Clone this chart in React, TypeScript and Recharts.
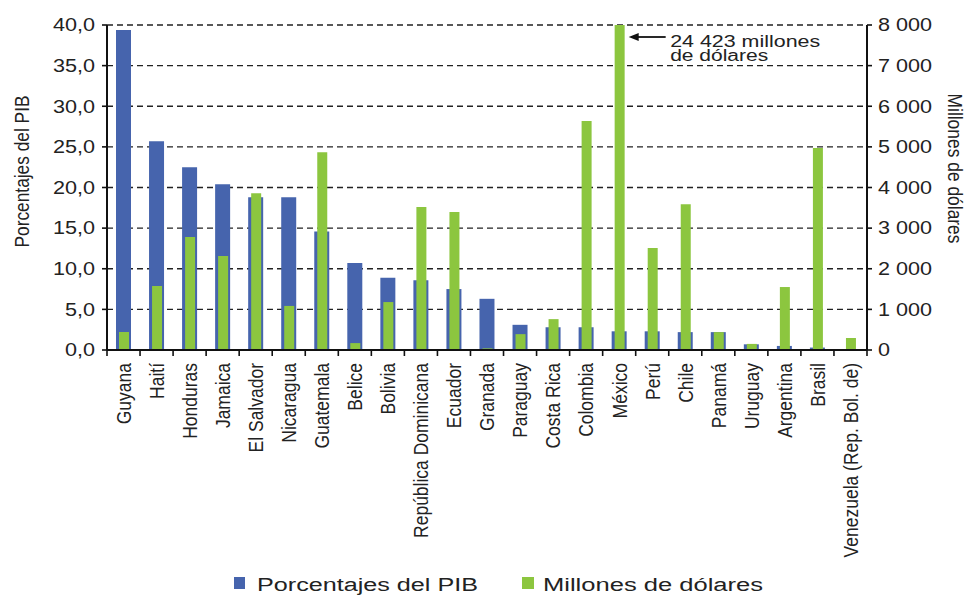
import React from 'react';
import { BarChart, Bar, XAxis, YAxis, CartesianGrid, Legend, ReferenceDot } from 'recharts';

const countries = [
  'Guyana', 'Haití', 'Honduras', 'Jamaica', 'El Salvador', 'Nicaragua', 'Guatemala', 'Belice',
  'Bolivia', 'República Dominicana', 'Ecuador', 'Granada', 'Paraguay', 'Costa Rica', 'Colombia',
  'México', 'Perú', 'Chile', 'Panamá', 'Uruguay', 'Argentina', 'Brasil', 'Venezuela (Rep. Bol. de)',
];
const pctPIB = [39.4, 25.7, 22.5, 20.4, 18.8, 18.8, 14.6, 10.7, 8.9, 8.6, 7.5, 6.3, 3.1, 2.8, 2.8, 2.3, 2.3, 2.2, 2.2, 0.7, 0.5, 0.3, 0];
const millonesUSD = [443, 1575, 2780, 2315, 3860, 1085, 4870, 170, 1180, 3520, 3400, 40, 390, 760, 5640, 24423, 2510, 3590, 440, 150, 1550, 4970, 295];
const pctTicks = [0, 5, 10, 15, 20, 25, 30, 35, 40];
const usdTicks = [0, 1000, 2000, 3000, 4000, 5000, 6000, 7000, 8000];
const annotationCountry = 'México';
const annotationLines = ['24 423 millones', 'de dólares'];
const legendLabels = ['Porcentajes del PIB', 'Millones de dólares'];
const axisTitles = ['Porcentajes del PIB', 'Millones de dólares'];

const data = countries.map((c, i) => ({ country: c, pct: pctPIB[i], usd: millonesUSD[i] }));

const BLUE = '#4664ad';
const GREEN = '#8cc63f';
const INK = '#222222';
const FONT = '"Liberation Sans", Arial, sans-serif';

function XTick(props: any) {
  const { x, y, payload, index, width } = props;
  const n = countries.length;
  const half = (width ? width : 760) / (2 * n);
  const axisY = y - 13;
  return (
    <g>
      <line x1={x - half} x2={x - half} y1={axisY} y2={axisY + 6} stroke="#111" strokeWidth={1.6} />
      {index === n - 1 && <line x1={x + half} x2={x + half} y1={axisY} y2={axisY + 6} stroke="#111" strokeWidth={1.6} />}
      <text
        transform={`translate(${x},${y}) scale(1.2,1) rotate(-90)`}
        textAnchor="end"
        dy="0.35em"
        fontSize={17.5}
        fill={INK}
        fontFamily={FONT}
      >
        {payload.value}
      </text>
    </g>
  );
}

function LeftTick(props: any) {
  const { x, y, payload } = props;
  return (
    <text transform={`translate(${x},${y}) scale(1.2,1)`} textAnchor="end" dy="0.35em" fontSize={18} fill={INK} fontFamily={FONT}>
      {Number(payload.value).toFixed(1).replace('.', ',')}
    </text>
  );
}

function RightTick(props: any) {
  const { x, y, payload } = props;
  const s = String(payload.value).replace(/\B(?=(\d{3})+(?!\d))/g, ' ');
  return (
    <text transform={`translate(${x},${y}) scale(1.2,1)`} textAnchor="start" dy="0.35em" fontSize={18} fill={INK} fontFamily={FONT}>
      {s}
    </text>
  );
}

function LeftTitle(props: any) {
  const vb = props.viewBox || { x: 0, y: 25, width: 107, height: 325 };
  const cx = vb.x + 22;
  const cy = vb.y + vb.height / 2 - 16;
  return (
    <text
      transform={`translate(${cx},${cy}) scale(1.2,1) rotate(-90)`}
      textAnchor="middle"
      dy="0.35em"
      fontSize={17}
      textLength={152}
      lengthAdjust="spacingAndGlyphs"
      fill={INK}
      fontFamily={FONT}
    >
      {axisTitles[0]}
    </text>
  );
}

function RightTitle(props: any) {
  const vb = props.viewBox || { x: 867, y: 25, width: 99, height: 325 };
  const cx = vb.x + 88;
  const cy = vb.y + vb.height / 2 - 19;
  return (
    <text
      transform={`translate(${cx},${cy}) scale(1.15,1) rotate(90)`}
      textAnchor="middle"
      dy="0.35em"
      fontSize={17}
      textLength={150}
      lengthAdjust="spacingAndGlyphs"
      fill={INK}
      fontFamily={FONT}
    >
      {axisTitles[1]}
    </text>
  );
}

function Annot(props: any) {
  const vb = props.viewBox;
  if (!vb) return null;
  const cx = vb.x + (vb.width || 0) / 2;
  const cy = vb.y + (vb.height || 0) / 2;
  const ax = cx + 9.5;
  const ay = cy + 12;
  return (
    <g>
      <line x1={ax + 8} y1={ay} x2={ax + 37} y2={ay} stroke="#111" strokeWidth={1.8} />
      <polygon points={`${ax},${ay} ${ax + 10},${ay - 4} ${ax + 10},${ay + 4}`} fill="#111" />
      <text x={cx + 51} y={cy + 22} fontSize={16} textLength={150} lengthAdjust="spacingAndGlyphs" fill={INK} fontFamily={FONT}>
        {annotationLines[0]}
      </text>
      <text x={cx + 51} y={cy + 36} fontSize={16} textLength={98} lengthAdjust="spacingAndGlyphs" fill={INK} fontFamily={FONT}>
        {annotationLines[1]}
      </text>
    </g>
  );
}

function LegendContent() {
  return (
    <svg width={966} height={45} style={{ display: 'block' }}>
      <rect x={234} y={27} width={11} height={12} fill={BLUE} />
      <text x={257} y={41} fontSize={18} textLength={221} lengthAdjust="spacingAndGlyphs" fill={INK} fontFamily={FONT}>
        {legendLabels[0]}
      </text>
      <rect x={522} y={27} width={12} height={12} fill={GREEN} />
      <text x={543} y={41} fontSize={18} textLength={220} lengthAdjust="spacingAndGlyphs" fill={INK} fontFamily={FONT}>
        {legendLabels[1]}
      </text>
    </svg>
  );
}

export default function App() {
  return (
    <div style={{ position: 'absolute', left: 0, top: 0, width: 966, height: 595, background: '#fff' }}>
      <BarChart width={966} height={595} data={data} margin={{ top: 25, right: 0, bottom: 0, left: 0 }}>
        <CartesianGrid vertical={false} stroke="#222" strokeDasharray="6 4" strokeWidth={1.4} xAxisId="a" yAxisId="pct" />
        <XAxis
          xAxisId="a"
          dataKey="country"
          interval={0}
          height={200}
          tickSize={6}
          tickMargin={7}
          tickLine={false}
          axisLine={{ stroke: '#111', strokeWidth: 2 }}
          tick={<XTick />}
        />
        <XAxis xAxisId="b" dataKey="country" hide />
        <YAxis
          yAxisId="pct"
          orientation="left"
          width={107}
          domain={[0, 40]}
          ticks={pctTicks}
          interval={0}
          tickSize={5}
          tickMargin={7}
          tickLine={{ stroke: '#111', strokeWidth: 1.6 }}
          axisLine={{ stroke: '#111', strokeWidth: 2 }}
          tick={<LeftTick />}
          label={<LeftTitle />}
        />
        <YAxis
          yAxisId="usd"
          orientation="right"
          width={99}
          domain={[0, 8000]}
          allowDataOverflow
          ticks={usdTicks}
          interval={0}
          tickSize={5}
          tickMargin={6}
          tickLine={{ stroke: '#111', strokeWidth: 1.6 }}
          axisLine={{ stroke: '#111', strokeWidth: 2 }}
          tick={<RightTick />}
          label={<RightTitle />}
        />
        <Legend verticalAlign="bottom" height={45} wrapperStyle={{ left: 0, bottom: 0, width: 966 }} content={<LegendContent />} />
        <Bar xAxisId="a" yAxisId="pct" dataKey="pct" name={legendLabels[0]} fill={BLUE} barSize={15} isAnimationActive={false} />
        <Bar xAxisId="b" yAxisId="usd" dataKey="usd" name={legendLabels[1]} fill={GREEN} barSize={10} isAnimationActive={false} />
        <ReferenceDot
          xAxisId="a"
          yAxisId="usd"
          x={annotationCountry}
          y={8000}
          r={1}
          fill="none"
          stroke="none"
          label={<Annot />}
        />
      </BarChart>
    </div>
  );
}
